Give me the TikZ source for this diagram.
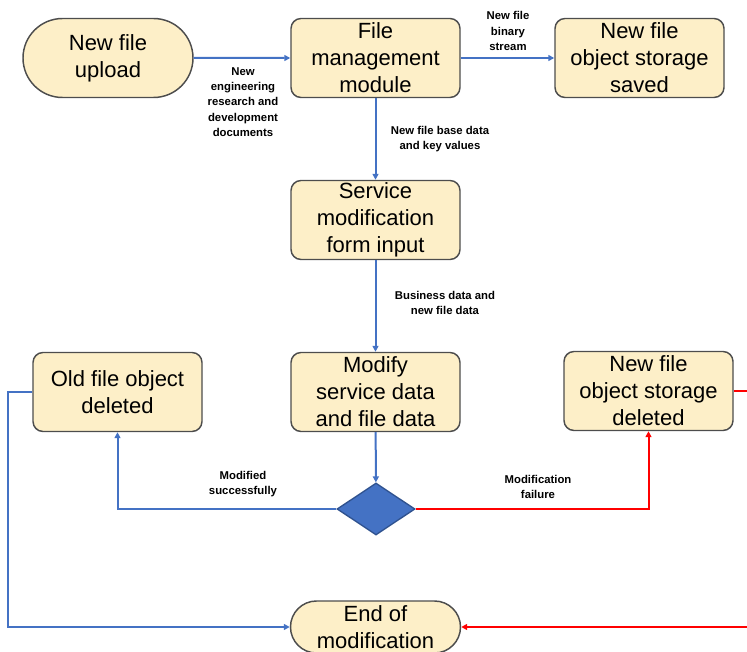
\documentclass[tikz,border=0pt]{standalone}
\usepackage{fontspec}
\setmainfont{Liberation Sans}
\usetikzlibrary{arrows.meta,shapes.misc,shapes.geometric}
\definecolor{boxfill}{HTML}{FDEFC8}
\definecolor{boxline}{HTML}{4D4D4D}
\definecolor{flowblue}{HTML}{4472C4}
\definecolor{flowred}{HTML}{FF0000}
\definecolor{diamline}{HTML}{2F528F}
\begin{document}
\begin{tikzpicture}[
		x=0.75pt, y=-0.75pt,
		box/.style={rectangle, rounded corners=7.5pt, draw=boxline, line width=1.1pt, fill=boxfill,
				minimum width=126.75pt, minimum height=59.25pt, inner sep=0pt, align=center,
				font=\fontsize{16.5}{20.25}\selectfont},
		term/.style={rounded rectangle, draw=boxline, line width=1.1pt, fill=boxfill,
				minimum width=127.5pt, minimum height=59.25pt, inner sep=0pt, align=center,
				font=\fontsize{16.5}{20.25}\selectfont},
		decision/.style={diamond, aspect=1.5, draw=diamline, line width=1pt, fill=flowblue,
				minimum width=58.5pt, minimum height=39pt, inner sep=0pt},
		note/.style={align=center, font=\bfseries\fontsize{8.5}{11.5}\selectfont},
		flow/.style={draw=flowblue, line width=1.5pt, -{Triangle[length=4.5pt,width=4.5pt]}},
		fail/.style={flow, draw=flowred}
	]
	\useasboundingbox (0,0) rectangle (747,652);

	% boxes
	\node[term] (upload) at (108,58) {New file\\upload};
	\node[box] (fm) at (375.5,58) {File\\management\\module};
	\node[box] (saved) at (639.5,58) {New file\\object storage\\saved};
	\node[box] (form) at (375.5,220) {Service\\modification\\form input};
	\node[box] (modify) at (375.5,392) {Modify\\service data\\and file data};
	\node[box] (olddel) at (117.5,392) {Old file object\\deleted};
	\node[box] (newdel) at (648.5,391) {New file\\object storage\\deleted};
	\node[decision] (check) at (376,509) {};
	\node[term, minimum height=39pt] (finish) at (375.5,627) {End of\\modification};

	% labels
	\node[note] (docs) at (243,102) {New\\engineering\\research and\\development\\documents};
	\node[note] (stream) at (508,31) {New file\\binary\\stream};
	\node[note] (keys) at (440,139) {New file base data\\and key values};
	\node[note] (bizdata) at (445,303) {Business data and\\new file data};
	\node[note] (okay) at (243,484) {Modified\\successfully};
	\node[note] (failed) at (538,487) {Modification\\failure};

	% connectors
	\draw[flow] (upload) -- (fm);
	\draw[flow] (fm) -- (saved);
	\draw[flow] (fm) -- (form);
	\draw[flow] (form) -- (modify);
	\draw[flow] (modify) -- (check);
	\draw[flow] (check.west) -| (olddel.south);
	\draw[fail] (check.east) -| (newdel.south);
	\draw[flow] (olddel.west) -- ++(-24,0) |- (finish.west);
	\draw[fail] (newdel.east) -- ++(30,0) |- (finish.east);
\end{tikzpicture}
\end{document}
